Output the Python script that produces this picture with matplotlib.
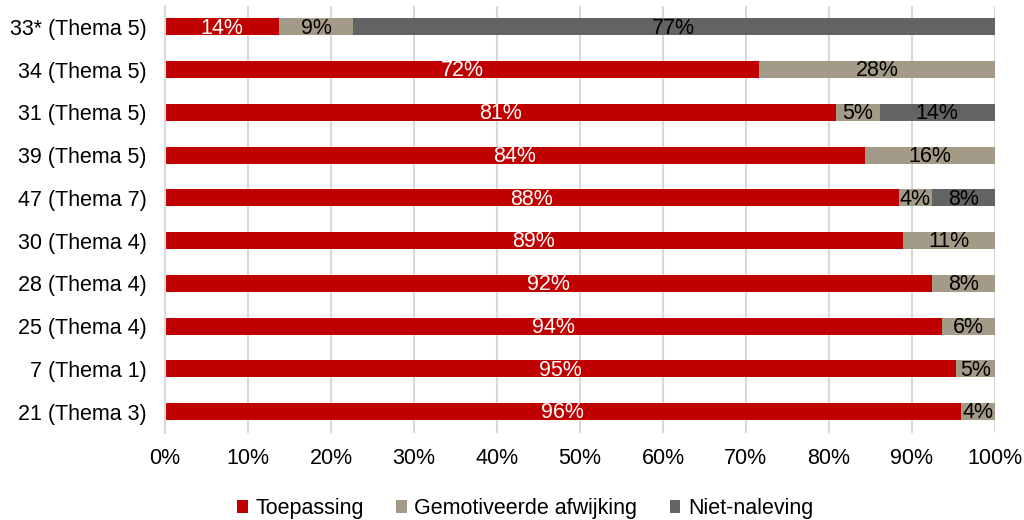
import matplotlib
matplotlib.use("Agg")
import matplotlib.pyplot as plt
import numpy as np

plt.rcParams['font.family'] = ['Liberation Sans', 'DejaVu Sans']

# data (top to bottom as in the chart)
categories = ["33* (Thema 5)", "34 (Thema 5)", "31 (Thema 5)", "39 (Thema 5)",
              "47 (Thema 7)", "30 (Thema 4)", "28 (Thema 4)", "25 (Thema 4)",
              "7 (Thema 1)", "21 (Thema 3)"]
toepassing = [13.8, 71.6, 80.8, 84.3, 88.4, 88.9, 92.4, 93.6, 95.3, 95.9]
gemotiveerd = [8.8, 28.4, 5.3, 15.7, 4.0, 11.1, 7.6, 6.4, 4.7, 4.1]
niet_naleving = [77.4, 0, 13.9, 0, 7.6, 0, 0, 0, 0, 0]

series = [("Toepassing", toepassing, "#C00000", "white"),
          ("Gemotiveerde afwijking", gemotiveerd, "#A39B88", "black"),
          ("Niet-naleving", niet_naleving, "#636363", "black")]

FS = 15.5

fig = plt.figure(figsize=(10.24, 5.2), dpi=100)
ax = fig.add_axes([0.1611, 0.1673, 0.8105, 0.822])

y = np.arange(len(categories))[::-1]
left = np.zeros(len(categories))
for name, vals, col, tcol in series:
    vals = np.array(vals)
    ax.barh(y, vals, left=left, height=0.4, color=col, label=name, zorder=2)
    for yi, l, v in zip(y, left, vals):
        if v > 0:
            ax.text(l + v / 2, yi - 0.03, f"{round(v):.0f}%", ha="center",
                    va="center", color=tcol, fontsize=FS, zorder=3)
    left += vals

ax.set_xlim(0, 100)
ax.set_ylim(-0.5, len(categories) - 0.5)
ax.set_yticks(y)
ax.set_yticklabels(categories, fontsize=FS)
ax.set_xticks(np.arange(0, 101, 10))
ax.set_xticklabels([f"{v}%" for v in range(0, 101, 10)], fontsize=FS)
ax.tick_params(axis="y", length=0, pad=13)
ax.tick_params(axis="x", length=0, pad=11)
ax.grid(axis="x", color="#D9D9D9", linewidth=1.5, zorder=0)
for s in ["top", "right", "bottom"]:
    ax.spines[s].set_visible(False)
ax.spines["left"].set_color("#D9D9D9")
ax.spines["left"].set_linewidth(1.5)

ax.legend(loc="center", bbox_to_anchor=(0.434, -0.177), ncol=3, frameon=False,
          fontsize=FS, handlelength=0.5, handleheight=0.5, handletextpad=0.35,
          columnspacing=1.5)

fig.savefig("out.png", dpi=100)
